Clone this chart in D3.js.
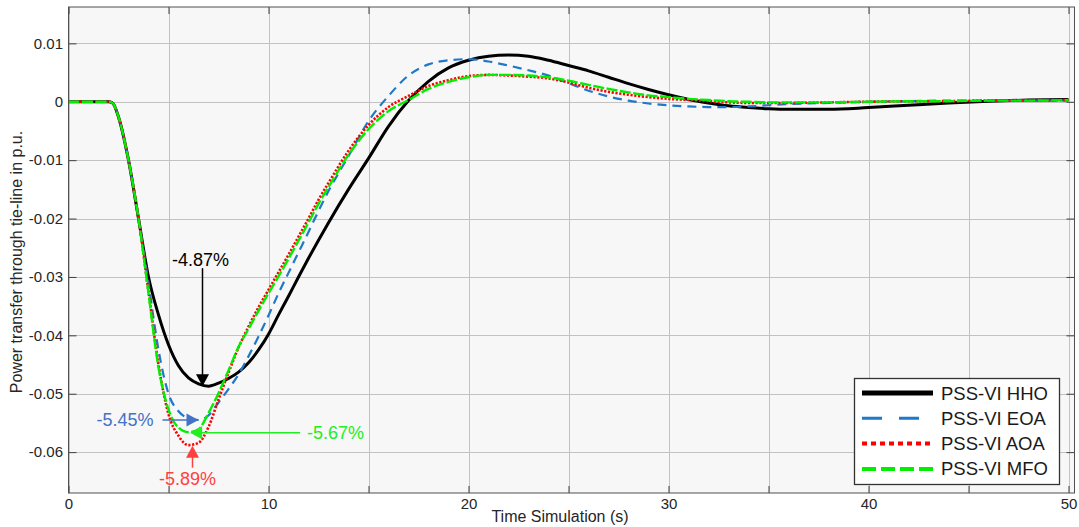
<!DOCTYPE html>
<html>
<head>
<meta charset="utf-8">
<script src="https://cdn.jsdelivr.net/npm/d3@7"></script>
<style>
  html, body { margin: 0; padding: 0; background: #ffffff; }
  svg { display: block; font-family: "Liberation Sans", Arial, sans-serif; }
</style>
</head>
<body>
<svg id="chart" width="1079" height="527"></svg>
<script>
// ---------------- data ----------------
const time = [0, 1, 2, 2.2, 2.5, 3, 3.5, 4, 4.5, 5, 5.5, 6, 6.5, 7, 7.5, 8, 8.5, 9, 9.5, 10, 10.5, 11, 11.5, 12, 12.5, 13, 14, 15, 16, 17, 18, 19, 20, 21, 22, 23, 24, 25, 26, 27, 28, 29, 30, 31, 32, 33, 34, 35, 36, 38, 40, 42, 44, 46, 48, 50];

const hho = [0, 0, 0, -0.0002, -0.0026, -0.0100, -0.0200, -0.0300, -0.0365, -0.0416, -0.0452, -0.0473, -0.0483, -0.0487, -0.0482, -0.0474, -0.0463, -0.0447, -0.0425, -0.0398, -0.0365, -0.0333, -0.0300, -0.0268, -0.0237, -0.0207, -0.0150, -0.0097, -0.0042, 0.0002, 0.0035, 0.0058, 0.0071, 0.0078, 0.0080, 0.0078, 0.0071, 0.0062, 0.0053, 0.0042, 0.0031, 0.0021, 0.0012, 0.0004, -0.0002, -0.0007, -0.0010, -0.0012, -0.0013, -0.0013, -0.0010, -0.0006, -0.0002, 0.0001, 0.0003, 0.0004];

const eoa = [0, 0, 0, -0.0002, -0.0026, -0.0100, -0.0200, -0.0310, -0.0425, -0.0500, -0.0530, -0.0542, -0.0545, -0.0537, -0.0515, -0.0492, -0.0467, -0.0436, -0.0402, -0.0366, -0.0328, -0.0293, -0.0258, -0.0223, -0.0187, -0.0153, -0.0093, -0.0033, 0.0010, 0.0045, 0.0064, 0.0071, 0.0073, 0.0069, 0.0062, 0.0054, 0.0045, 0.0032, 0.0019, 0.0009, 0.0002, -0.0003, -0.0006, -0.0008, -0.0009, -0.0009, -0.0008, -0.0006, -0.0004, -0.0002, 0.0000, 0.0001, 0.0002, 0.0002, 0.0002, 0.0002];

const aoa = [0, 0, 0, -0.0002, -0.0026, -0.0100, -0.0200, -0.0325, -0.0450, -0.0535, -0.0572, -0.0588, -0.0584, -0.0557, -0.0510, -0.0464, -0.0421, -0.0385, -0.0352, -0.0322, -0.0292, -0.0262, -0.0231, -0.0200, -0.0168, -0.0139, -0.0084, -0.0040, -0.0009, 0.0010, 0.0027, 0.0037, 0.0044, 0.0046, 0.0045, 0.0043, 0.0040, 0.0033, 0.0024, 0.0017, 0.0012, 0.0008, 0.0005, 0.0003, 0.0001, -0.0001, -0.0002, -0.0002, -0.0002, -0.0001, 0.0000, 0.0001, 0.0001, 0.0002, 0.0002, 0.0003];

const mfo = [0, 0, 0, -0.0002, -0.0026, -0.0100, -0.0200, -0.0328, -0.0455, -0.0527, -0.0558, -0.0566, -0.0561, -0.0533, -0.0499, -0.0460, -0.0420, -0.0389, -0.0358, -0.0328, -0.0299, -0.0269, -0.0238, -0.0207, -0.0175, -0.0146, -0.0091, -0.0047, -0.0016, 0.0003, 0.0022, 0.0034, 0.0042, 0.0046, 0.0046, 0.0045, 0.0042, 0.0036, 0.0029, 0.0022, 0.0016, 0.0011, 0.0008, 0.0005, 0.0003, 0.0001, 0.0000, -0.0001, -0.0001, -0.0001, 0.0000, 0.0001, 0.0001, 0.0002, 0.0002, 0.0003];

const seriesNames = ["PSS-VI HHO", "PSS-VI EOA", "PSS-VI AOA", "PSS-VI MFO"];
const xTickValues = [0, 10, 20, 30, 40, 50];
const xGridValues = [0, 5, 10, 15, 20, 25, 30, 35, 40, 45, 50];
const yTickValues = [-0.06, -0.05, -0.04, -0.03, -0.02, -0.01, 0, 0.01];
const yTickLabels = ["-0.06", "-0.05", "-0.04", "-0.03", "-0.02", "-0.01", "0", "0.01"];

// annotations: text, target time, target value
const annoText = ["-4.87%", "-5.45%", "-5.67%", "-5.89%"];
const annoTime = [6.7, 6.5, 6.08, 6.2];
const annoValue = [-0.0487, -0.0545, -0.0567, -0.0589];

// ---------------- layout ----------------
const svg = d3.select("#chart");
const L = 68.5, R = 1074.5, T = 7, B = 493;
const x = d3.scaleLinear().domain([0, 50.3]).range([L, R]);
const y = d3.scaleLinear().domain([-0.067, 0.01623]).range([B, T]);

svg.append("rect").attr("x", L).attr("y", T).attr("width", R - L).attr("height", B - T).attr("fill", "#f7f7f7");

// grid
const grid = svg.append("g").attr("stroke", "#c2c2c2").attr("stroke-width", 1);
grid.selectAll("line.v").data(xGridValues).join("line")
  .attr("x1", d => Math.round(x(d)) + 0.5).attr("x2", d => Math.round(x(d)) + 0.5)
  .attr("y1", T).attr("y2", B);
grid.selectAll("line.h").data(yTickValues).join("line")
  .attr("y1", d => Math.round(y(d)) + 0.5).attr("y2", d => Math.round(y(d)) + 0.5)
  .attr("x1", L).attr("x2", R);

// axes
const xAxis = d3.axisBottom(x).tickValues(xGridValues).tickSizeInner(-7).tickSizeOuter(0)
  .tickFormat(d => xTickValues.includes(d) ? String(d) : "").tickPadding(5);
const gx = svg.append("g").attr("transform", `translate(0,${B})`).call(xAxis);
gx.select(".domain").remove();
gx.selectAll(".tick line").attr("stroke", "#404040");
gx.selectAll("text").attr("font-size", 15).attr("fill", "#262626").attr("font-family", "Liberation Sans, Arial, sans-serif");

const yAxis = d3.axisLeft(y).tickValues(yTickValues).tickSizeInner(-8).tickSizeOuter(0)
  .tickFormat((d, i) => yTickLabels[i]).tickPadding(5.5);
const gy = svg.append("g").attr("transform", `translate(${L},0)`).call(yAxis);
gy.select(".domain").remove();
gy.selectAll(".tick line").attr("stroke", "#404040");
gy.selectAll("text").attr("font-size", 15).attr("fill", "#262626").attr("font-family", "Liberation Sans, Arial, sans-serif");

// mirrored ticks
const gyR = svg.append("g").attr("transform", `translate(${R},0)`).call(d3.axisRight(y).tickValues(yTickValues).tickSizeInner(-8).tickSizeOuter(0).tickFormat(""));
gyR.select(".domain").remove();
gyR.selectAll(".tick line").attr("stroke", "#404040");
const gxT = svg.append("g").attr("transform", `translate(0,${T})`).call(d3.axisTop(x).tickValues(xGridValues).tickSizeInner(-7).tickSizeOuter(0).tickFormat(""));
gxT.select(".domain").remove();
gxT.selectAll(".tick line").attr("stroke", "#404040");

// clip
svg.append("clipPath").attr("id", "clip").append("rect").attr("x", L).attr("y", T).attr("width", R - L).attr("height", B - T);

const line = d3.line().x(d => x(d[0])).y(d => y(d[1])).curve(d3.curveMonotoneX);
const styles = [
  { data: hho, color: "#000000", width: 3, dash: null },
  { data: eoa, color: "#1f78c8", width: 2.2, dash: "9,6" },
  { data: aoa, color: "#ff0000", width: 2.6, dash: "2.2,1.6" },
  { data: mfo, color: "#00ee00", width: 2.4, dash: "11,2.5" }
];
const plot = svg.append("g").attr("clip-path", "url(#clip)");
styles.forEach(s => {
  plot.append("path")
    .datum(time.map((t, i) => [t, s.data[i]]))
    .attr("d", line)
    .attr("fill", "none")
    .attr("stroke", s.color)
    .attr("stroke-width", s.width)
    .attr("stroke-dasharray", s.dash)
    .attr("stroke-linejoin", "round");
});

// border
svg.append("rect").attr("x", L).attr("y", T).attr("width", R - L).attr("height", B - T)
  .attr("fill", "none").attr("stroke", "#505050").attr("stroke-width", 1);

// annotations
const annoColor = ["#000000", "#4472c4", "#22ee22", "#ff4040"];
const ann = svg.append("g").attr("font-size", 18).attr("font-family", "Liberation Sans, Arial, sans-serif");
function arrowHead(tx, ty, dir, color) {
  const l = 12, w = 6.5;
  let pts;
  if (dir === "down") pts = [[tx, ty], [tx - w, ty - l], [tx + w, ty - l]];
  if (dir === "up") pts = [[tx, ty], [tx - w, ty + l], [tx + w, ty + l]];
  if (dir === "right") pts = [[tx, ty], [tx - l, ty - w], [tx - l, ty + w]];
  if (dir === "left") pts = [[tx, ty], [tx + l, ty - w], [tx + l, ty + w]];
  ann.append("polygon").attr("points", pts.map(p => p.join(",")).join(" ")).attr("fill", color);
}
// -4.87% (black, arrow down)
{
  const tx = x(annoTime[0]), ty = y(annoValue[0]);
  ann.append("line").attr("x1", tx).attr("x2", tx).attr("y1", ty - 118).attr("y2", ty - 8).attr("stroke", annoColor[0]).attr("stroke-width", 1.5);
  arrowHead(tx, ty, "down", annoColor[0]);
  ann.append("text").attr("x", tx - 2).attr("y", ty - 120).attr("text-anchor", "middle").attr("fill", annoColor[0]).text(annoText[0]);
}
// -5.45% (blue, arrow right)
{
  const tx = x(annoTime[1]), ty = y(annoValue[1]);
  ann.append("line").attr("x1", tx - 36).attr("x2", tx - 8).attr("y1", ty).attr("y2", ty).attr("stroke", annoColor[1]).attr("stroke-width", 1.5);
  arrowHead(tx, ty, "right", annoColor[1]);
  ann.append("text").attr("x", tx - 45).attr("y", ty + 6).attr("text-anchor", "end").attr("fill", annoColor[1]).text(annoText[1]);
}
// -5.67% (green, arrow left)
{
  const tx = x(annoTime[2]), ty = y(annoValue[2]);
  ann.append("line").attr("x1", tx + 8).attr("x2", tx + 110).attr("y1", ty).attr("y2", ty).attr("stroke", annoColor[2]).attr("stroke-width", 1.5);
  arrowHead(tx, ty, "left", annoColor[2]);
  ann.append("text").attr("x", tx + 117).attr("y", ty + 6).attr("text-anchor", "start").attr("fill", annoColor[2]).text(annoText[2]);
}
// -5.89% (red, arrow up)
{
  const tx = x(annoTime[3]), ty = y(annoValue[3]);
  ann.append("line").attr("x1", tx).attr("x2", tx).attr("y1", ty + 8).attr("y2", ty + 22).attr("stroke", annoColor[3]).attr("stroke-width", 1.5);
  arrowHead(tx, ty, "up", annoColor[3]);
  ann.append("text").attr("x", tx - 5).attr("y", ty + 39).attr("text-anchor", "middle").attr("fill", annoColor[3]).text(annoText[3]);
}

// axis labels
svg.append("text").attr("x", 560).attr("y", 522).attr("text-anchor", "middle")
  .attr("font-size", 16).attr("fill", "#262626").text("Time Simulation (s)");
svg.append("text").attr("transform", "translate(22,262) rotate(-90)").attr("text-anchor", "middle")
  .attr("font-size", 16).attr("fill", "#262626").text("Power transfer through tie-line in p.u.");

// legend
const lg = svg.append("g");
lg.append("rect").attr("x", 854.5).attr("y", 378.5).attr("width", 205).attr("height", 106)
  .attr("fill", "#ffffff").attr("stroke", "#333333").attr("stroke-width", 1.3);
const legendStyles = [
  { color: "#000000", width: 5, dash: null },
  { color: "#1f78c8", width: 3, dash: "20,17" },
  { color: "#ff0000", width: 4, dash: "5,4" },
  { color: "#00ee00", width: 4, dash: "14,5" }
];
seriesNames.forEach((name, i) => {
  const yy = 393 + i * 25.3;
  lg.append("line").attr("x1", 862).attr("x2", 933).attr("y1", yy).attr("y2", yy)
    .attr("stroke", legendStyles[i].color).attr("stroke-width", legendStyles[i].width)
    .attr("stroke-dasharray", legendStyles[i].dash);
  lg.append("text").attr("x", 941).attr("y", yy + 6.5).attr("font-size", 18.5).attr("fill", "#1a1a1a").text(name);
});
</script>
</body>
</html>
